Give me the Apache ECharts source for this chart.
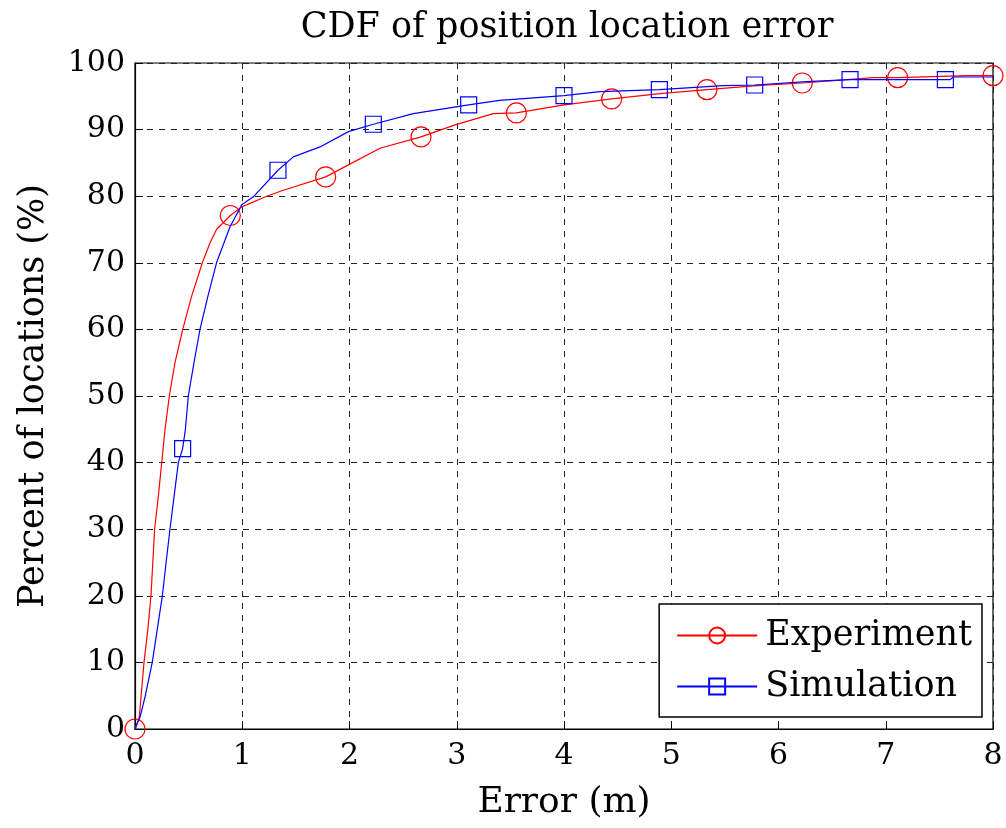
<!DOCTYPE html>
<html>
<head>
<meta charset="utf-8">
<script src="https://cdn.jsdelivr.net/npm/echarts@6/dist/echarts.min.js"></script>
<style>html,body{margin:0;padding:0;background:#fff}#c{width:1006px;height:828px}</style>
</head>
<body>
<div id="c"></div>
<script>
const titleText = 'CDF of position location error';
const xName = 'Error (m)';
const yName = 'Percent of locations (%)';
const seriesNames = ['Experiment', 'Simulation'];
const xTicks = [0, 1, 2, 3, 4, 5, 6, 7, 8];
const yTicks = [0, 10, 20, 30, 40, 50, 60, 70, 80, 90, 100];

// Experiment CDF curve [error m, percent]
const expCurve = [[0,0],[0.04,1.8],[0.084,10],[0.12,15],[0.149,20],[0.183,30],[0.218,35],[0.249,40],[0.28,45],[0.32,50],[0.373,55],[0.445,60],[0.528,65],[0.628,70],[0.70,73],[0.76,75],[0.995,78.4],[1.228,80.0],[1.383,80.9],[1.99,84.7],[2.284,87.2],[2.984,90.7],[3.341,92.4],[4.0,93.7],[4.895,95.4],[5.797,96.6],[6.884,97.8],[7.755,98.1]];
// Experiment marker points
const expMarkers = [[0,0],[0.889,77.1],[1.778,82.9],[2.667,88.9],[3.556,92.5],[4.444,94.6],[5.333,96.0],[6.222,97.0],[7.111,97.8],[8.0,98.1]];

// Simulation CDF curve
const simCurve = [[0,0],[0.047,1.8],[0.093,4.8],[0.161,10],[0.208,15],[0.255,20],[0.29,25],[0.326,30],[0.365,35],[0.404,40],[0.47,45],[0.497,50],[0.55,55],[0.606,60],[0.68,65],[0.76,70],[0.886,75.4],[0.995,78.7],[1.103,79.9],[1.476,85.9],[1.725,87.4],[1.99,89.7],[2.595,92.4],[3.40,94.4],[4.336,95.7],[5.485,96.6],[6.263,97.2],[7.60,97.5],[7.63,97.9],[8.0,97.9]];
// Simulation marker points
const simMarkers = [[0.444,42.1],[1.333,83.9],[2.222,90.8],[3.111,93.7],[4.0,95.1],[4.889,96.0],[5.778,96.7],[6.667,97.5],[7.556,97.5]];

function merge(curve, markers) {
  const pts = curve.map(p => ({ value: p, symbol: 'none' }));
  markers.forEach(p => pts.push({ value: p, isMarker: true }));
  pts.sort((a, b) => a.value[0] - b.value[0]);
  return pts.map(p => p.isMarker ? { value: p.value } : p);
}

const FONT = 'DejaVu Serif';
const chart = echarts.init(document.getElementById('c'), null, { renderer: 'canvas' });
chart.setOption({
  animation: false,
  backgroundColor: '#fff',
  title: {
    text: titleText, left: 562, textAlign: 'center', top: 5,
    textStyle: { fontFamily: FONT, fontSize: 35, fontWeight: 'normal', color: '#000' }
  },
  grid: { left: 135, right: 13, top: 63, bottom: 99, show: true, borderColor: '#000', borderWidth: 1.2, backgroundColor: '#fff' },
  xAxis: {
    type: 'value', min: xTicks[0], max: xTicks[xTicks.length - 1], interval: 1,
    name: xName, nameLocation: 'middle', nameGap: 56,
    nameTextStyle: { fontFamily: FONT, fontSize: 36, color: '#000' },
    axisLine: { show: true, lineStyle: { color: '#000', width: 1.2 } },
    axisTick: { show: true, inside: true, length: 8, lineStyle: { color: '#000' } },
    axisLabel: { fontFamily: FONT, fontSize: 30, color: '#000', margin: 12 },
    splitLine: { show: true, lineStyle: { color: '#222', type: [6, 6], width: 1 } }
  },
  yAxis: {
    type: 'value', min: yTicks[0], max: yTicks[yTicks.length - 1], interval: 10,
    name: yName, nameLocation: 'middle', nameGap: 84, nameRotate: 90,
    nameTextStyle: { fontFamily: FONT, fontSize: 35, color: '#000' },
    axisLine: { show: true, lineStyle: { color: '#000', width: 1.2 } },
    axisTick: { show: true, inside: true, length: 8, lineStyle: { color: '#000' } },
    axisLabel: { fontFamily: FONT, fontSize: 30, color: '#000', margin: 10 },
    splitLine: { show: true, lineStyle: { color: '#222', type: [6, 6], width: 1 } }
  },
  legend: {
    orient: 'vertical', right: 24, bottom: 111,
    backgroundColor: '#fff', borderColor: '#000', borderWidth: 1.5, borderRadius: 0,
    padding: [14, 10, 13, 17], itemGap: 16, itemWidth: 80, itemHeight: 20,
    textStyle: { fontFamily: FONT, fontSize: 35, color: '#000', lineHeight: 34, padding: [0, 0, 0, 3] },
    data: seriesNames
  },
  series: [
    {
      name: seriesNames[0], type: 'line', data: merge(expCurve, expMarkers),
      symbol: 'circle', symbolSize: 20, showAllSymbol: true,
      lineStyle: { color: '#ff0000', width: 1.2 },
      itemStyle: { color: 'rgba(255,255,255,0)', borderColor: '#ff0000', borderWidth: 1.2 },
      emphasis: { disabled: true }, z: 3
    },
    {
      name: seriesNames[1], type: 'line', data: merge(simCurve, simMarkers),
      symbol: 'rect', symbolSize: 16, showAllSymbol: true,
      lineStyle: { color: '#0000ff', width: 1.2 },
      itemStyle: { color: 'rgba(255,255,255,0)', borderColor: '#0000ff', borderWidth: 1.2 },
      emphasis: { disabled: true }, z: 4
    }
  ]
});
</script>
</body>
</html>
